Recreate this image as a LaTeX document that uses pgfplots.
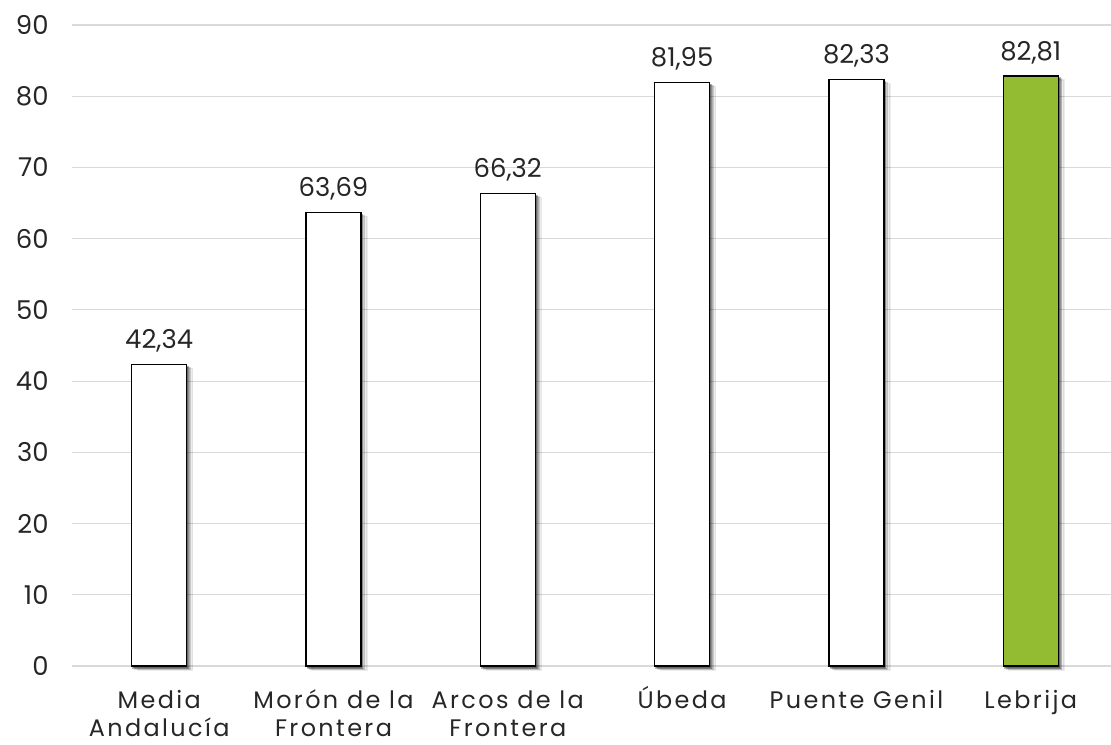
\documentclass[border=0pt]{standalone}
\usepackage{pgfplots}
\pgfplotsset{compat=1.18}
\usepackage{fontspec}
\setmainfont{Poppins}
\newfontfamily\lblfont[LetterSpace=10]{Poppins}
\usetikzlibrary{shadows}
\definecolor{barGreen}{RGB}{147,188,51}
\definecolor{gridGray}{RGB}{217,217,217}
\definecolor{txt}{RGB}{38,38,38}
\tikzset{
  softshadow/.style={
    drop shadow={shadow xshift=1.5pt, shadow yshift=-2pt, fill=black, opacity=0.28},
    drop shadow={shadow xshift=3.5pt, shadow yshift=-3pt, fill=black, opacity=0.14},
    drop shadow={shadow xshift=6pt, shadow yshift=-4pt, fill=black, opacity=0.07},
  }
}
% same first-line height for every category label
\newcommand{\lh}{\vphantom{\'U}}
\begin{document}
\begin{tikzpicture}
\begin{axis}[
  at={(0,0)}, anchor=south west,
  scale only axis,
  width=1046bp, height=641bp,
  xmin=-0.5, xmax=5.5,
  ymin=0, ymax=90,
  ytick={0,10,...,90},
  xtick={0,1,2,3,4,5},
  xticklabels={{\lh Media\\Andaluc\'ia},{\lh Mor\'on de la\\Frontera},{\lh Arcos de la\\Frontera},{\lh\'Ubeda},{\lh Puente Genil},{\lh Lebrija}},
  xticklabel style={align=center, font=\lblfont\fontsize{24}{28}\selectfont, text=txt},
  yticklabel style={font=\fontsize{26}{30}\selectfont, text=txt},
  /pgf/number format/assume math mode=true,
  axis line style={draw=none},
  ymajorgrids,
  grid style={gridGray, line width=1.2pt},
  major tick length=0pt,
  xticklabel shift=17pt,
  yticklabel shift=20pt,
  ybar, bar width=55bp, bar shift=0pt,
  nodes near coords,
  every node near coord/.append style={font=\fontsize{26}{30}\selectfont, text=txt, yshift=8pt,
    /pgf/number format/.cd, fixed, fixed zerofill, precision=2, use comma, assume math mode=true},
  clip=false,
]
\addplot[draw=black, line width=1.5pt, fill=white, softshadow]
  coordinates {(0,42.34) (1,63.69) (2,66.32) (3,81.95) (4,82.33)};
\addplot[draw=black, line width=1.5pt, fill=barGreen, softshadow]
  coordinates {(5,82.81)};
\end{axis}
\pgfresetboundingbox
\useasboundingbox (-72bp,-79bp) rectangle (1039bp,666bp);
\end{tikzpicture}
\end{document}
